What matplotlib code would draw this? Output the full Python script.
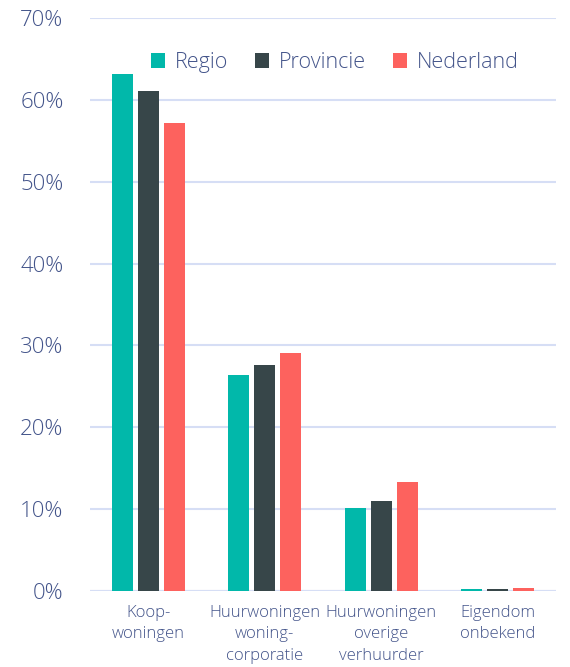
import numpy as np
import matplotlib
matplotlib.use("Agg")
import matplotlib.pyplot as plt

# categorieen en waarden (aandeel woningen in %)
categories = ["Koop-\nwoningen", "Huurwoningen\nwoning-\ncorporatie",
              "Huurwoningen\noverige\nverhuurder", "Eigendom\nonbekend"]
series = ["Regio", "Provincie", "Nederland"]
regio = [63.2, 26.4, 10.2, 0.3]
provincie = [61.1, 27.6, 11.0, 0.3]
nederland = [57.2, 29.1, 13.3, 0.4]
colors = ["#01B8AA", "#374649", "#FD625E"]
yticks = [0, 10, 20, 30, 40, 50, 60, 70]

plt.rcParams['font.family'] = ['Open Sans', 'DejaVu Sans']
plt.rcParams['font.weight'] = 'light'
txt = "#43548A"
grid = "#D6DEF5"

fig = plt.figure(figsize=(5.7, 6.67), dpi=100)
ax = fig.add_axes([90/570, 1 - 591/667, 466/570, 573/667])

x = np.arange(len(categories))
w = 0.18
step = 0.223
for i, (name, vals) in enumerate(zip(series, [regio, provincie, nederland])):
    ax.bar(x + (i - 1)*step, vals, width=w, color=colors[i], label=name, zorder=3)

ax.set_xlim(-0.5, 3.5)
ax.set_ylim(0, 70)
ax.set_yticks(yticks)
ax.set_yticklabels([f"{t}%" for t in yticks], fontsize=16, color=txt)
ax.set_xticks(x)
ax.set_xticklabels(categories, fontsize=12, color=txt, linespacing=1.45)
ax.tick_params(axis='y', length=0, pad=19)
ax.tick_params(axis='x', length=0, pad=10)
ax.grid(axis='y', color=grid, linewidth=1.5, zorder=0)
ax.set_axisbelow(True)
for s in ax.spines.values():
    s.set_visible(False)
ax.axhline(0, color=grid, linewidth=1.5, zorder=1)

leg = ax.legend(loc='center left', bbox_to_anchor=(0.113, 0.922), ncol=3,
                frameon=False, fontsize=15.5, handlelength=0.65, handleheight=0.65,
                handletextpad=0.45, columnspacing=1.25, borderaxespad=0)
for t in leg.get_texts():
    t.set_color(txt)

fig.savefig("out.png", dpi=100)
